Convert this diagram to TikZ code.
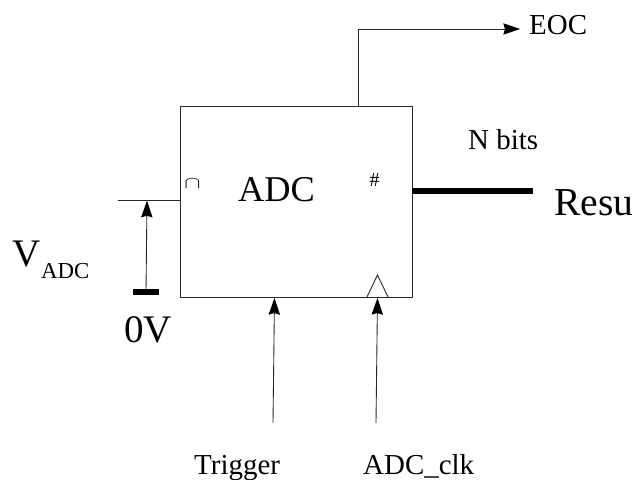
\documentclass[tikz,border=0pt]{standalone}
\usepackage{amsmath}
\usepackage{fontspec}
\setmainfont{Liberation Serif}
\usetikzlibrary{arrows.meta}
\tikzset{
  wire/.style={draw=black!85,line width=0.75pt},
  sigarrow/.style={wire,-{Stealth[length=0.5cm,width=0.34cm,inset=0.05cm,black]}},
  busline/.style={draw=black,line width=0.165cm},
  smalltxt/.style={inner sep=0,anchor=base west,font=\fontsize{24.7}{28}\selectfont},
  bigtxt/.style={inner sep=0,anchor=base west,font=\fontsize{33.3}{36}\selectfont},
  adcbox/.style={wire,inner sep=0,minimum width=6.96cm,minimum height=5.715cm}
}
\begin{document}
\begin{tikzpicture}[x=0.03cm,y=-0.03cm]
\useasboundingbox (0,0) rectangle (634,480);
\node[adcbox] (adc) at (296,201.7) {};
\node[bigtxt,font=\fontsize{31}{34}\selectfont] (adclabel) at (238,202) {ADC};
\node[inner sep=0,yscale=0.7,transform shape,font=\fontsize{21}{24}\selectfont] (capmark) at (192.5,184) {$\cap$};
\node[inner sep=0,anchor=base west,font=\fontsize{17}{20}\selectfont] (hash) at (369.5,187) {\#};

% input side
\coordinate (vin) at (118,200.7);
\coordinate (vintop) at (147,200.7);
\coordinate (vbar) at (146,292);
\coordinate (barleft) at (133,292);
\coordinate (barright) at (159,292);
\draw[wire] (vin) -- (vin -| adc.west);
\draw[sigarrow] (vbar) -- (vintop);
\draw[draw=black,line width=0.18cm] (barleft) -- (barright);
\node[bigtxt] (vlabel) at (12,267) {V};
\node[inner sep=0,anchor=base west,font=\fontsize{19.5}{22}\selectfont] (vsub) at (41,279) {ADC};
\node[bigtxt] (zerov) at (124,343) {0V};

% bottom side
\coordinate (trigstart) at (273,423);
\coordinate (trigend) at (274.5,298);
\coordinate (clkstart) at (376,423);
\coordinate (clkend) at (377.5,298);
\draw[sigarrow] (trigstart) -- (trigend);
\draw[sigarrow] (clkstart) -- (clkend);
\node[smalltxt] (trigger) at (194,474.5) {Trigger};
\node[smalltxt] (clklabel) at (363,474.5) {ADC\_clk};
\coordinate (triA) at (367,297);
\coordinate (triB) at (377.5,275);
\coordinate (triC) at (388,297);
\draw[wire] (triA) -- (triB) -- (triC);

% top and right side
\coordinate (eocstart) at (358,106.5);
\coordinate (eoccorner) at (358,29);
\coordinate (eocend) at (520,29);
\draw[sigarrow] (eocstart) -- (eoccorner) -- (eocend);
\node[smalltxt] (eoc) at (529,35) {EOC};
\node[smalltxt] (nbits) at (468,150) {N bits};
\coordinate (busend) at (533,191);
\draw[busline] (busend -| adc.east) -- (busend);
\node[bigtxt,font=\fontsize{33.8}{36}\selectfont] (result) at (554,216) {Resu};
\end{tikzpicture}
\end{document}
